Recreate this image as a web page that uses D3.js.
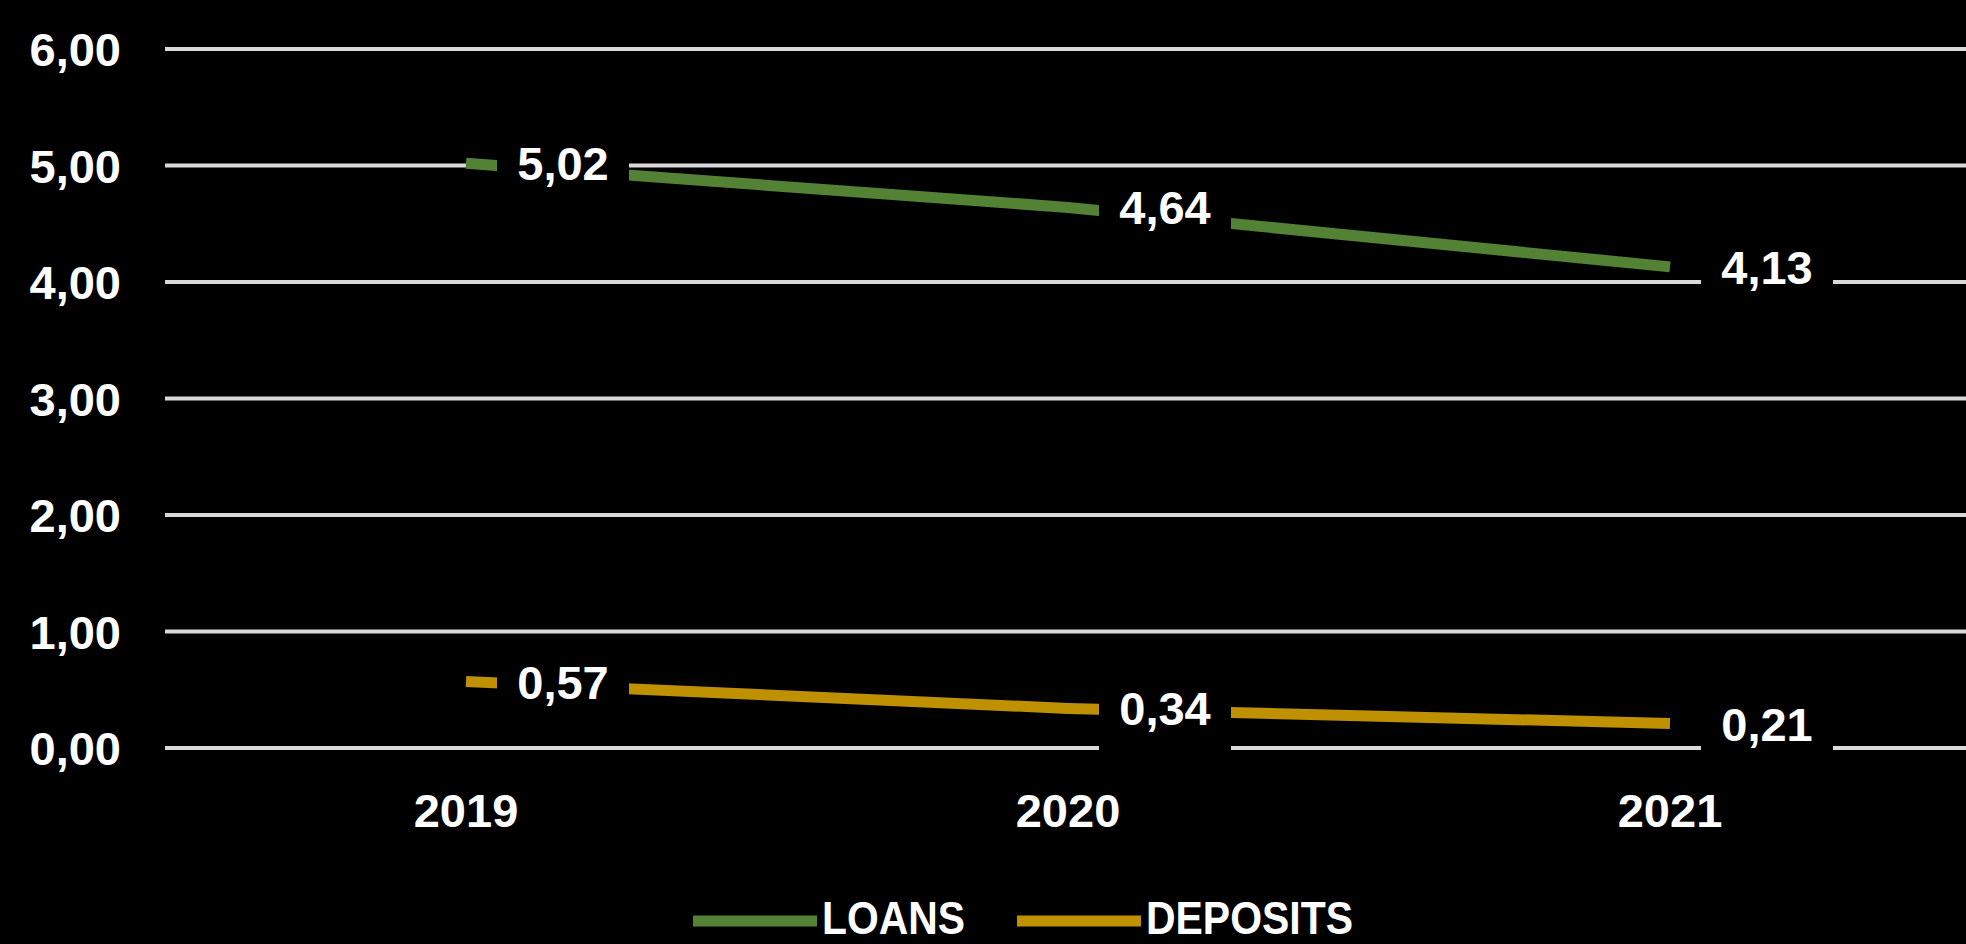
<!DOCTYPE html>
<html>
<head>
<meta charset="utf-8">
<script src="https://cdn.jsdelivr.net/npm/d3@7"></script>
<style>
  html, body { margin: 0; padding: 0; background: #000; }
  svg { display: block; }
  text { font-family: "Liberation Sans", Arial, sans-serif; font-weight: bold; fill: #fff; }
</style>
</head>
<body>
<svg id="chart" width="1966" height="944"></svg>
<script>
const years = ["2019", "2020", "2021"];
const loans = [5.02, 4.64, 4.13];
const deposits = [0.57, 0.34, 0.21];
const yTicks = [0, 1, 2, 3, 4, 5, 6];
const seriesNames = ["LOANS", "DEPOSITS"];
const seriesColors = ["#548235", "#BF9000"];

const W = 1966, H = 944;
const svg = d3.select("#chart");
svg.append("rect").attr("width", W).attr("height", H).attr("fill", "#000");

const x = d3.scaleBand().domain(years).range([165, 1971]).padding(0);
const y = d3.scaleLinear().domain([0, 6]).range([748, 49]);
const fmt = v => d3.format(".2f")(v).replace(".", ",");
const cx = d => x(d) + x.bandwidth() / 2;

// gridlines
svg.append("g").selectAll("line").data(yTicks).join("line")
  .attr("x1", 165).attr("x2", W)
  .attr("y1", d => y(d)).attr("y2", d => y(d))
  .attr("stroke", "#d9d9d9").attr("stroke-width", 4);

// y axis labels
svg.append("g").selectAll("text").data(yTicks).join("text")
  .attr("x", 121).attr("y", d => y(d) + 17)
  .attr("text-anchor", "end").attr("font-size", 47)
  .text(d => fmt(d));

// x axis labels
svg.append("g").selectAll("text").data(years).join("text")
  .attr("x", d => cx(d)).attr("y", 827)
  .attr("text-anchor", "middle").attr("font-size", 47)
  .text(d => d);

const series = [loans, deposits];
const line = d3.line().x((d, i) => cx(years[i])).y(d => y(d));

series.forEach((vals, si) => {
  svg.append("path").datum(vals)
    .attr("d", line)
    .attr("fill", "none")
    .attr("stroke", seriesColors[si])
    .attr("stroke-width", 11)
    .attr("stroke-linecap", "butt");
});

// data labels with black boxes
series.forEach((vals, si) => {
  const g = svg.append("g");
  g.selectAll("rect").data(vals).join("rect")
    .attr("x", (d, i) => cx(years[i]) + 31)
    .attr("y", d => y(d) - 38)
    .attr("width", 132).attr("height", 80)
    .attr("fill", "#000");
  g.selectAll("text").data(vals).join("text")
    .attr("x", (d, i) => cx(years[i]) + 97)
    .attr("y", d => y(d) + 17)
    .attr("text-anchor", "middle").attr("font-size", 47)
    .text(d => fmt(d));
});

// legend
const legendItems = [
  { name: seriesNames[0], color: seriesColors[0], x1: 693, x2: 817, tx: 822, tl: 143 },
  { name: seriesNames[1], color: seriesColors[1], x1: 1017, x2: 1141, tx: 1146, tl: 207 }
];
const lg = svg.append("g");
legendItems.forEach(it => {
  lg.append("line").attr("x1", it.x1).attr("x2", it.x2).attr("y1", 921).attr("y2", 921)
    .attr("stroke", it.color).attr("stroke-width", 11);
  lg.append("text").attr("x", it.tx).attr("y", 934).attr("font-size", 47)
    .attr("textLength", it.tl).attr("lengthAdjust", "spacingAndGlyphs")
    .text(it.name);
});
</script>
</body>
</html>
